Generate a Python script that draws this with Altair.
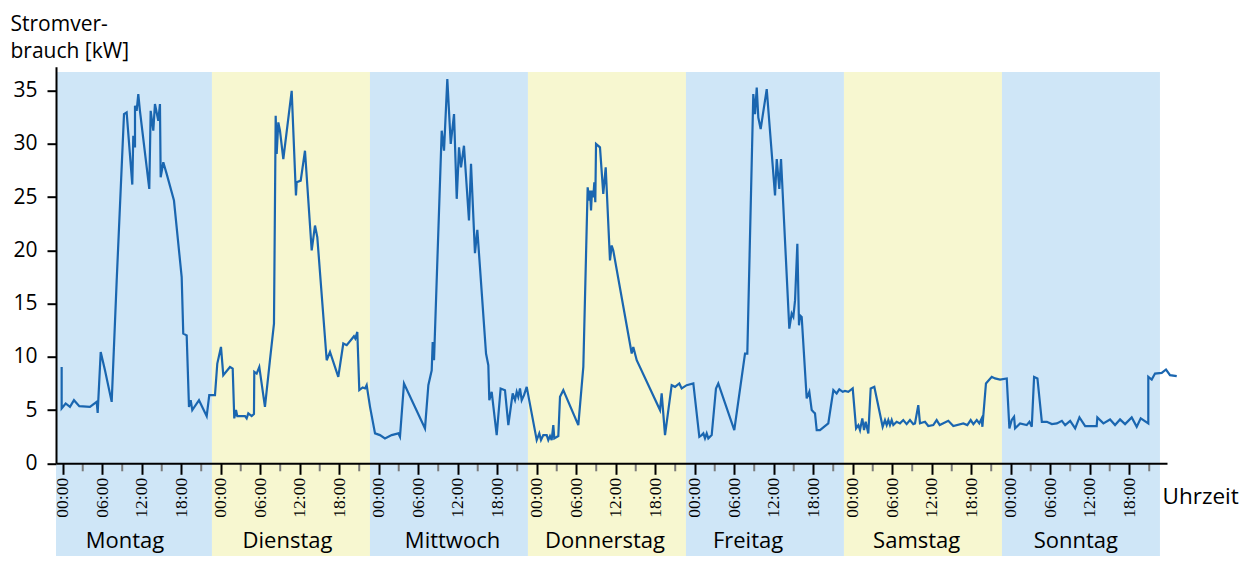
import altair as alt
import pandas as pd

# ---- consumption series (hours since Monday 00:00, kW) ----
h_mo = [-0.20, -0.20, 0.41, 1.06, 1.67, 2.48, 4.10, 5.12, 5.27, 5.73, 6.38, 7.40, 8.16, 9.27, 9.67,
        10.53, 10.68, 10.94, 10.94, 11.19, 11.44, 11.69, 13.11, 13.32, 13.72, 13.97, 14.48, 14.73,
        14.84, 15.24, 15.75, 16.86, 18.03, 18.27, 18.79, 19.14, 19.40, 19.64, 20.66, 21.83, 22.22, 23.09]
k_mo = [9.05, 5.15, 5.62, 5.30, 5.93, 5.37, 5.30, 5.77, 4.74, 10.46, 8.74, 5.77, 17.18, 32.80, 32.95,
        26.18, 30.77, 29.67, 33.58, 33.11, 34.68, 33.11, 25.77, 33.11, 31.24, 33.74, 32.17, 33.74,
        26.86, 28.27, 27.18, 24.68, 17.49, 12.18, 12.02, 5.30, 5.93, 5.00, 5.93, 4.43, 6.40, 6.40]

h_di = [23.44, 24.00, 24.35, 25.37, 25.78, 26.02, 26.28, 26.48, 27.65, 27.90, 28.15, 28.66, 29.01,
        29.06, 29.42, 29.82, 30.68, 31.44, 32.05, 32.31, 32.46, 32.71, 32.96, 33.47, 34.74, 35.39,
        35.50, 36.11, 36.76, 37.78, 38.28, 38.63, 40.06, 40.56, 41.82, 42.58, 43.10, 44.20, 44.40,
        44.71, 45.01, 45.53, 45.88, 46.13, 46.64]
k_di = [9.37, 10.93, 8.28, 9.05, 8.90, 4.22, 5.00, 4.43, 4.43, 4.22, 4.69, 4.43, 4.62, 8.59, 8.43,
        9.05, 5.30, 9.68, 13.12, 32.64, 29.05, 32.02, 31.24, 28.58, 34.99, 25.15, 26.39, 26.55, 29.36,
        19.99, 22.33, 21.24, 9.68, 10.46, 8.12, 11.25, 11.09, 11.93, 11.72, 12.34, 6.87, 7.12, 7.03,
        7.34, 5.30]

h_mi = [47.40, 48.15, 48.91, 49.93, 50.94, 51.19, 51.80, 54.99, 55.50, 56.01, 56.16, 56.36, 57.53,
        57.88, 58.38, 58.90, 59.40, 59.81, 60.16, 60.46, 60.91, 61.67, 61.98, 62.58, 62.94, 64.26,
        64.61, 64.76, 65.12, 65.88, 66.48, 67.14, 67.65, 68.31, 68.66, 68.92, 69.16, 69.42, 69.68,
        70.03, 70.44]
k_mi = [2.81, 2.65, 2.34, 2.65, 2.81, 2.49, 7.50, 3.28, 7.34, 8.74, 11.40, 9.68, 31.24, 29.36, 36.08,
        29.99, 32.80, 24.84, 29.67, 27.80, 29.83, 22.80, 28.12, 19.74, 21.93, 10.31, 9.21, 5.93, 6.71,
        2.65, 7.03, 6.87, 3.59, 6.56, 5.93, 6.71, 6.24, 7.03, 5.93, 6.40, 7.18]

h_do = [71.96, 72.35, 72.61, 72.96, 73.48, 73.72, 73.98, 74.23, 74.48, 74.63, 75.24, 75.50, 76.00,
        78.28, 79.04, 79.70, 79.95, 80.06, 80.21, 80.36, 80.56, 80.71, 80.86, 80.97, 81.57, 82.07,
        82.44, 83.09, 83.35, 83.59, 86.39, 86.63, 87.15, 90.69, 90.94, 91.45, 92.46, 92.97, 93.62,
        93.98, 94.74, 95.75]
k_do = [2.18, 2.81, 2.18, 2.65, 2.65, 2.18, 2.56, 2.18, 3.59, 2.34, 2.56, 6.24, 6.87, 3.59, 9.05,
        25.92, 24.68, 25.61, 23.74, 25.61, 24.99, 26.39, 24.52, 29.99, 29.67, 25.30, 27.80, 19.05,
        20.46, 19.99, 10.31, 10.93, 9.68, 5.00, 6.56, 2.65, 7.34, 7.18, 7.50, 7.03, 7.34, 7.50]

h_fr = [96.66, 97.02, 97.27, 97.52, 97.78, 98.03, 98.54, 99.19, 99.54, 101.97, 103.60, 103.95,
        104.86, 105.12, 105.38, 105.62, 105.98, 106.90, 108.16, 108.42, 108.81, 109.07, 110.33,
        110.69, 110.94, 111.20, 111.55, 111.80, 111.95, 112.21, 112.97, 113.37, 113.73, 113.97,
        114.23, 114.49, 114.99, 116.25, 117.02, 117.52, 117.92, 118.44, 118.79, 119.29, 119.96]
k_fr = [2.49, 2.65, 2.81, 2.34, 2.81, 2.34, 2.65, 7.03, 7.50, 3.12, 10.31, 10.31, 34.68, 32.80, 35.30,
        32.48, 31.40, 35.15, 25.15, 28.58, 25.77, 28.58, 12.65, 14.06, 13.75, 15.30, 20.62, 12.96,
        13.90, 13.75, 6.09, 6.71, 5.00, 4.84, 4.69, 3.12, 3.12, 3.75, 6.87, 6.56, 6.94, 6.71, 6.80,
        6.71, 7.03]

h_sa = [120.47, 120.82, 121.07, 121.42, 121.68, 121.93, 122.33, 122.69, 123.24, 124.51, 124.86,
        125.12, 125.37, 125.62, 125.88, 126.13, 126.64, 127.14, 127.64, 128.15, 128.66, 129.16,
        129.42, 129.92, 130.18, 130.94, 131.44, 132.20, 132.71, 133.18, 134.48, 135.24, 136.76,
        137.37, 137.88, 138.29, 138.80, 139.19, 139.55, 139.66, 140.20, 141.08, 141.58, 142.34, 143.36]
k_sa = [3.28, 3.59, 3.12, 4.22, 3.12, 3.90, 2.81, 7.03, 7.18, 3.43, 4.06, 3.59, 4.06, 3.59, 4.06,
        3.59, 3.90, 3.75, 4.06, 3.68, 4.06, 3.68, 3.75, 5.46, 3.75, 3.90, 3.50, 3.59, 4.06, 3.59,
        3.99, 3.50, 3.75, 3.59, 4.06, 3.68, 4.06, 3.75, 4.22, 3.43, 7.50, 8.12, 7.97, 7.87, 7.97]

h_so = [143.76, 144.11, 144.47, 144.62, 145.38, 146.39, 146.80, 147.16, 147.51, 148.02, 148.69,
        149.45, 150.21, 150.97, 151.73, 152.23, 152.99, 153.75, 154.40, 155.27, 157.02, 157.12,
        158.04, 159.05, 159.81, 160.57, 161.33, 162.34, 163.10, 163.71, 164.86, 164.86, 165.38,
        165.88, 166.90, 167.55, 168.16, 169.18]
k_so = [3.28, 4.06, 4.37, 3.28, 3.75, 3.59, 3.90, 3.43, 8.12, 7.97, 3.90, 3.90, 3.68, 3.75, 3.99,
        3.59, 3.99, 3.28, 4.31, 3.50, 3.50, 4.31, 3.75, 4.12, 3.59, 4.12, 3.68, 4.31, 3.43, 4.22,
        3.75, 8.12, 7.87, 8.43, 8.49, 8.81, 8.28, 8.18]

# ---- day bands ----
days = ["Montag", "Dienstag", "Mittwoch", "Donnerstag", "Freitag", "Samstag", "Sonntag"]
band_start = [-1.06, 22.63, 46.63, 70.63, 94.63, 118.63, 142.63]
band_end = [22.63, 46.63, 70.63, 94.63, 118.63, 142.63, 166.63]
band_kind = ["a", "b", "a", "b", "a", "b", "a"]
label_hour = [9.42, 34.10, 59.17, 82.33, 104.06, 129.68, 153.85]

major_ticks = list(range(0, 163, 6))
minor_ticks = list(range(3, 166, 6))
y_ticks = [0, 5, 10, 15, 20, 25, 30, 35]

BLUE = "#cfe6f7"
YELLOW = "#f7f7d0"
LINE = "#1a66b0"
FONT = "Open Sans"

all_h, all_k = [], []
for hs, ks in [(h_mo, k_mo), (h_di, k_di), (h_mi, k_mi), (h_do, k_do),
               (h_fr, k_fr), (h_sa, k_sa), (h_so, k_so)]:
    all_h += hs
    all_k += ks
line_df = pd.DataFrame({"h": all_h, "kw": all_k, "i": list(range(len(all_h)))})
band_df = pd.DataFrame({"day": days, "start": band_start, "end": band_end,
                        "kind": band_kind, "lh": label_hour})
minor_df = pd.DataFrame({"m": minor_ticks})

x_scale = alt.Scale(domain=[-1.06, 167.7], nice=False, zero=False)
y_scale = alt.Scale(domain=[0, 37.25], nice=False, zero=False)

x_axis = alt.Axis(
    values=major_ticks,
    labelExpr="(datum.value % 24 < 10 ? '0' : '') + (datum.value % 24) + ':00'",
    labelAngle=270, labelFont="Liberation Sans Narrow", labelFontSize=17.5, labelColor="black",
    labelPadding=3, labelOverlap=False, labelFlush=False,
    tickSize=11, tickWidth=2, tickColor="black",
    domainColor="black", domainWidth=2, grid=False,
    title="Uhrzeit", titleX=1106, titleY=40, titleAlign="left", titleAngle=0,
    titleBaseline="alphabetic", titleFont=FONT, titleFontSize=22.5, titleFontWeight="normal",
    titleColor="black", zindex=1,
)
y_axis = alt.Axis(
    values=y_ticks, labelFont=FONT, labelFontSize=21, labelColor="black", labelPadding=10,
    tickSize=9, tickWidth=2, tickColor="black",
    domainColor="black", domainWidth=2, grid=False,
    title=["Stromver-", "brauch [kW]"], titleAngle=0, titleX=-46, titleY=-36,
    titleAlign="left", titleBaseline="alphabetic", titleLineHeight=27,
    titleFont=FONT, titleFontSize=21, titleFontWeight="normal", titleColor="black", zindex=1,
)

bands = alt.Chart(band_df).mark_rect(clip=False).encode(
    x=alt.X("start:Q", scale=x_scale, axis=x_axis),
    x2="end:Q",
    y=alt.Y(datum=36.75, scale=y_scale, axis=y_axis),
    y2=alt.Y2(datum=-9.0),
    color=alt.Color("kind:N", scale=alt.Scale(domain=["a", "b"], range=[BLUE, YELLOW]), legend=None),
)

line = alt.Chart(line_df).mark_line(color=LINE, strokeWidth=2.2, clip=False,
                                    strokeJoin="miter", strokeMiterLimit=4).encode(
    x=alt.X("h:Q", scale=x_scale, axis=x_axis),
    y=alt.Y("kw:Q", scale=y_scale, axis=y_axis),
    order="i:Q",
)

minor = alt.Chart(minor_df).mark_rule(color="#7a7a7a", strokeWidth=2, clip=False).encode(
    x=alt.X("m:Q", scale=x_scale, axis=x_axis),
    y=alt.Y(datum=0, scale=y_scale, axis=y_axis),
    y2=alt.Y2(datum=-0.75),
)

labels = alt.Chart(band_df).mark_text(font=FONT, fontSize=22, color="black",
                                      baseline="alphabetic", align="center", clip=False).encode(
    x=alt.X("lh:Q", scale=x_scale, axis=x_axis),
    y=alt.Y(datum=-8.0, scale=y_scale, axis=y_axis),
    text="day:N",
)

chart = alt.layer(bands, line, minor, labels).properties(
    width=1111, height=396.6,
    padding={"left": 48, "top": 58.7, "right": 83, "bottom": 92.7},
    autosize=alt.AutoSizeParams(type="none"),
    background="white",
).configure_view(stroke=None)

chart.save("out.html", embed_options={"renderer": "svg", "actions": False})
